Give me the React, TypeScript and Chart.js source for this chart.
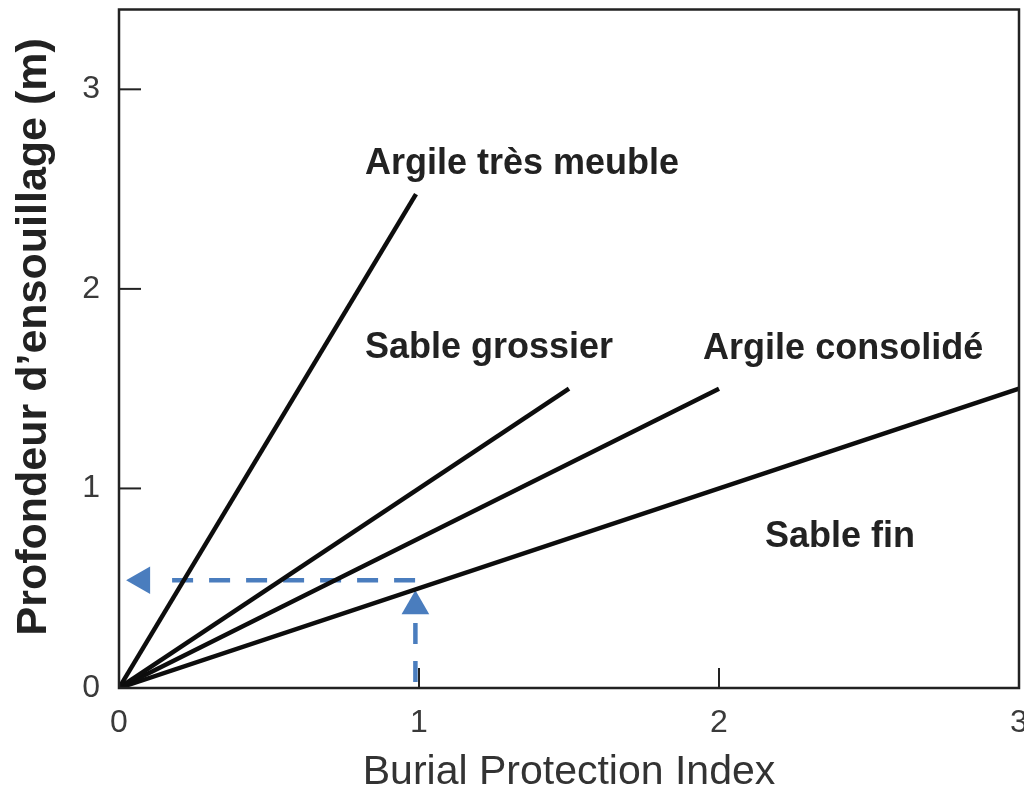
import React, { useEffect, useRef } from "react";
import { Chart, registerables } from "chart.js";

Chart.register(...registerables);

// ---- data ----
const xTicks = [0, 1, 2, 3];
const yTicks = [0, 1, 2, 3];
const xMin = 0;
const xMax = 3;
const yMin = 0;
const yMax = 3.4;

const argileTresMeubleX = [0, 0.99];
const argileTresMeubleY = [0, 2.475];
const sableGrossierX = [0, 1.5];
const sableGrossierY = [0, 1.5];
const argileConsolideX = [0, 2];
const argileConsolideY = [0, 1.5];
const sableFinX = [0, 3];
const sableFinY = [0, 1.5];

// blue reading guide (dashed) and arrow heads
const guideHX = [0.987, 0.17];
const guideHY = [0.54, 0.54];
const guideVX = [0.988, 0.988];
const guideVY = [0.03, 0.355];
const arrowLeft = { x: 0.077, y: 0.54 };
const arrowUp = { x: 0.988, y: 0.41 };

// curve labels (left x, baseline y in data units)
const labelTexts = ["Argile très meuble", "Sable grossier", "Argile consolidé", "Sable fin"];
const labelX = [0.82, 0.82, 1.947, 2.153];
const labelY = [2.575, 1.655, 1.65, 0.705];

const xTitle = "Burial Protection Index";
const yTitle = "  Profondeur d’ensouillage (m)";

const pts = (xs: number[], ys: number[]) => xs.map((x, i) => ({ x, y: ys[i] }));

const FONT = "'Liberation Sans', Arial, Helvetica, sans-serif";
const BLUE = "#4a7dbe";
const BLACK = "#0d0d0d";

const framePlugin = {
  id: "frameTicks",
  afterDatasetsDraw(chart: any) {
    const { ctx, chartArea, scales } = chart;
    const { left, right, top, bottom } = chartArea;
    ctx.save();
    ctx.strokeStyle = "#222";
    ctx.lineWidth = 2.5;
    ctx.strokeRect(left, top, right - left, bottom - top);
    ctx.lineWidth = 2;
    yTicks.forEach((v) => {
      if (v === yMin) return;
      const py = scales.y.getPixelForValue(v);
      ctx.beginPath();
      ctx.moveTo(left, py);
      ctx.lineTo(left + 22, py);
      ctx.stroke();
    });
    xTicks.forEach((v) => {
      if (v === xMin || v === xMax) return;
      const px = scales.x.getPixelForValue(v);
      ctx.beginPath();
      ctx.moveTo(px, bottom);
      ctx.lineTo(px, bottom - 20);
      ctx.stroke();
    });
    ctx.restore();
  },
};

const labelPlugin = {
  id: "curveLabels",
  afterDatasetsDraw(chart: any) {
    const { ctx, scales } = chart;
    ctx.save();
    ctx.font = `bold 36px ${FONT}`;
    ctx.fillStyle = "#222";
    ctx.textAlign = "left";
    ctx.textBaseline = "alphabetic";
    labelTexts.forEach((t, i) => {
      ctx.fillText(t, scales.x.getPixelForValue(labelX[i]), scales.y.getPixelForValue(labelY[i]));
    });
    ctx.restore();
  },
};

export default function App() {
  const ref = useRef<HTMLCanvasElement | null>(null);

  useEffect(() => {
    document.documentElement.style.overflow = "hidden";
    if (!ref.current) return;
    const lineDs = (label: string, xs: number[], ys: number[]) => ({
      label,
      data: pts(xs, ys),
      showLine: true,
      borderColor: BLACK,
      borderWidth: 4.5,
      borderCapStyle: "butt" as const,
      pointRadius: 0,
      tension: 0,
    });
    const chart = new Chart(ref.current, {
      type: "scatter",
      data: {
        datasets: [
          lineDs("Argile très meuble", argileTresMeubleX, argileTresMeubleY),
          lineDs("Sable grossier", sableGrossierX, sableGrossierY),
          lineDs("Argile consolidé", argileConsolideX, argileConsolideY),
          lineDs("Sable fin", sableFinX, sableFinY),
          {
            label: "guideH",
            data: pts(guideHX, guideHY),
            showLine: true,
            borderColor: BLUE,
            borderWidth: 4.5,
            borderDash: [21, 16],
            borderCapStyle: "butt" as const,
            pointRadius: 0,
          },
          {
            label: "guideV",
            data: pts(guideVX, guideVY),
            showLine: true,
            borderColor: BLUE,
            borderWidth: 4.5,
            borderDash: [21, 17],
            borderCapStyle: "butt" as const,
            pointRadius: 0,
          },
          {
            label: "arrowLeft",
            data: [arrowLeft],
            showLine: false,
            pointStyle: "triangle",
            pointRotation: -90,
            pointRadius: 16,
            pointBorderWidth: 0,
            backgroundColor: BLUE,
            borderColor: BLUE,
          },
          {
            label: "arrowUp",
            data: [arrowUp],
            showLine: false,
            pointStyle: "triangle",
            pointRotation: 0,
            pointRadius: 16,
            pointBorderWidth: 0,
            backgroundColor: BLUE,
            borderColor: BLUE,
          },
        ],
      },
      options: {
        animation: false,
        responsive: true,
        maintainAspectRatio: false,
        layout: { autoPadding: false, padding: { top: 9.5, right: 5, bottom: 0, left: 0 } },
        plugins: { legend: { display: false }, tooltip: { enabled: false } },
        events: [],
        scales: {
          x: {
            type: "linear",
            min: xMin,
            max: xMax,
            afterBuildTicks: (s: any) => {
              s.ticks = xTicks.map((v) => ({ value: v }));
            },
            afterFit: (s: any) => {
              s.height = 103;
              s.paddingLeft = 0;
              s.paddingRight = 0;
            },
            grid: { display: false, drawTicks: false },
            border: { display: false },
            ticks: {
              padding: 16,
              color: "#3a3a3a",
              font: { family: FONT, size: 32 },
              maxRotation: 0,
              autoSkip: false,
              callback: (v: any) => String(v),
            },
            title: {
              display: true,
              text: xTitle,
              color: "#333",
              font: { family: FONT, size: 41, lineHeight: 0.9 },
              padding: { top: 0, bottom: 0 },
            },
          },
          y: {
            type: "linear",
            min: yMin,
            max: yMax,
            afterBuildTicks: (s: any) => {
              s.ticks = yTicks.map((v) => ({ value: v }));
            },
            afterFit: (s: any) => {
              s.width = 119;
              s.paddingTop = 0;
              s.paddingBottom = 0;
            },
            grid: { display: false, drawTicks: false },
            border: { display: false },
            ticks: {
              padding: 19,
              color: "#3a3a3a",
              font: { family: FONT, size: 32 },
              autoSkip: false,
              callback: (v: any) => String(v),
            },
            title: {
              display: true,
              text: yTitle,
              color: "#222",
              font: { family: FONT, size: 43, weight: "bold" },
              padding: { top: 8, bottom: 0 },
            },
          },
        },
      },
      plugins: [framePlugin, labelPlugin],
    });
    return () => chart.destroy();
  }, []);

  return (
    <div style={{ position: "fixed", left: 0, top: 0, width: 1024, height: 791 }}>
      <canvas ref={ref} />
    </div>
  );
}
